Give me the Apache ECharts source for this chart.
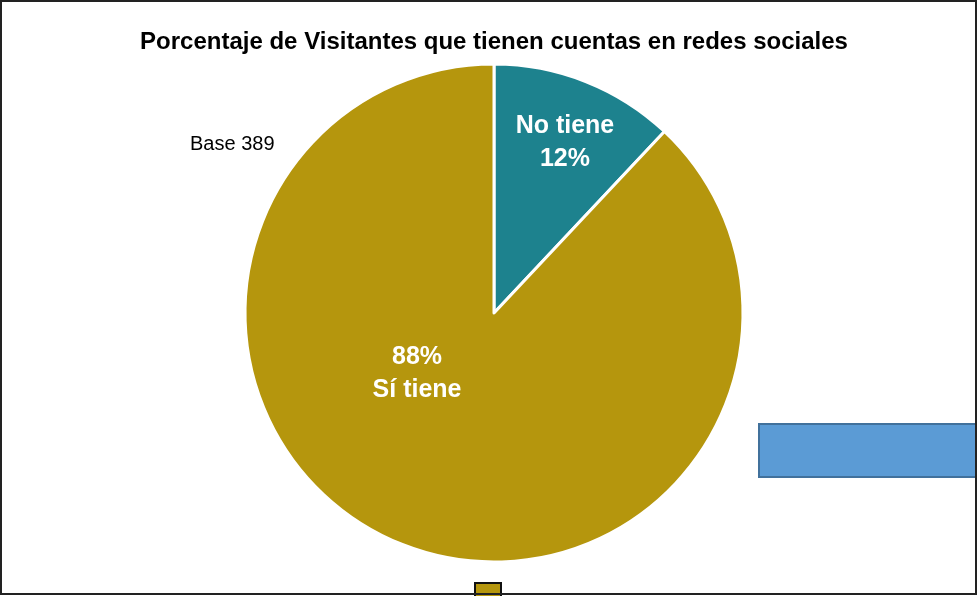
<!DOCTYPE html>
<html><head><meta charset="utf-8">
<script src="https://cdn.jsdelivr.net/npm/echarts@6/dist/echarts.min.js"></script>
<style>html,body{margin:0;padding:0;background:#fff}#c{width:977px;height:596px}</style>
</head><body><div id="c"></div>
<script>
const titleText = 'Porcentaje de Visitantes que tienen cuentas en redes sociales';
const baseText = 'Base 389';
const categories = ['No tiene', 'Sí tiene'];
const values = [12, 88];
const colors = ['#1D828E', '#B5960D'];
const labelOffsets = [[24, -52], [-30, -58]];

const chart = echarts.init(document.getElementById('c'), null, {renderer: 'canvas'});
const FONT = '"Liberation Sans", "DejaVu Sans", sans-serif';
chart.setOption({
  animation: false,
  backgroundColor: '#fff',
  title: {
    text: titleText, left: 489, top: 25, textAlign: 'center',
    textStyle: {fontFamily: FONT, fontWeight: 'bold', fontSize: 24, color: '#000'}
  },
  graphic: [
    {type: 'rect', shape: {x: 1, y: 1, width: 975, height: 593}, style: {fill: 'none', stroke: '#222', lineWidth: 2}, z: 100},
    {type: 'text', left: 190, top: 134, style: {text: baseText, font: '20px ' + FONT, fill: '#000'}},
    {type: 'rect', shape: {x: 759, y: 424, width: 220, height: 53}, style: {fill: '#5B9BD5', stroke: '#41719C', lineWidth: 2}},
    {type: 'rect', shape: {x: 475, y: 583, width: 26, height: 16}, style: {fill: '#B5960D', stroke: '#111', lineWidth: 2}}
  ],
  series: [{
    type: 'pie',
    center: [494, 313],
    radius: 249,
    startAngle: 90,
    clockwise: true,
    itemStyle: {borderColor: '#fff', borderWidth: 3},
    label: {
      position: 'inside', fontFamily: FONT, fontWeight: 'bold', fontSize: 25,
      color: '#fff', lineHeight: 33
    },
    labelLine: {show: false},
    data: categories.map((c, i) => ({
      name: c, value: values[i],
      itemStyle: {color: colors[i]},
      label: {
        offset: labelOffsets[i],
        formatter: i === 0 ? '{b}\n{c}%' : '{c}%\n{b}'
      }
    }))
  }]
});
</script></body></html>
